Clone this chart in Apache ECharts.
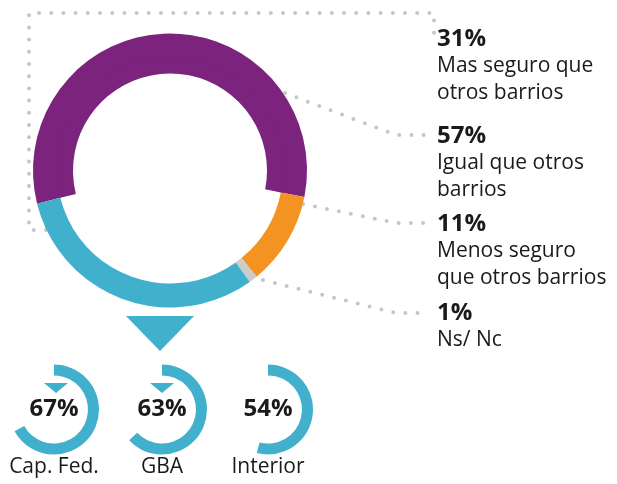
<!DOCTYPE html>
<html>
<head>
<meta charset="utf-8">
<script src="https://cdn.jsdelivr.net/npm/echarts@6/dist/echarts.min.js"></script>
<style>
html, body { margin: 0; padding: 0; background: #fff; }
#chart { width: 617px; height: 484px; }
</style>
</head>
<body>
<div id="chart"></div>
<script>
// main donut: clockwise from the lower left
const categories = ['Igual que otros\nbarrios', 'Menos seguro\nque otros barrios', 'Ns/ Nc', 'Mas seguro que\notros barrios'];
const shares = [57, 11, 1, 31];
const sliceColors = ['#7b237d', '#f39322', '#cccccc', '#41b0cd'];
// breakdown of "Mas seguro" by region
const regions = ['Cap. Fed.', 'GBA', 'Interior'];
const regionShares = [67, 63, 54];

const FONT = '"Open Sans", sans-serif';
const TEXT = '#1a1a1a';
const BLUE = '#41b0cd';
const DOT = '#c6c6c6';

const labelTops = [123, 211, 300, 26];
const regionX = [54, 162, 268];

function dotted(points) {
    return {
        type: 'polyline',
        silent: true,
        shape: { points: points },
        style: { stroke: DOT, fill: null, lineWidth: 4, lineDash: [0, 12.2], lineCap: 'round' },
    };
}

let series = [
    {
        type: 'pie',
        silent: true,
        radius: [113, 137],
        center: [170, 170.5],
        startAngle: 194,
        clockwise: true,
        emphasis: { disabled: true },
        labelLine: { show: false },
        label: {
            show: true,
            position: 'outside',
            overflow: 'none',
            fontFamily: FONT,
            formatter: '{p|{c}%}\n{n|{b}}',
            rich: {
                p: { fontFamily: FONT, fontWeight: 700, fontSize: 24, lineHeight: 27, color: TEXT },
                n: { fontFamily: FONT, fontSize: 21, lineHeight: 27, color: TEXT },
            },
        },
        labelLayout: function (params) {
            return { x: 437, y: labelTops[params.dataIndex], width: 200, align: 'left', verticalAlign: 'top' };
        },
        data: shares.map((v, i) => ({ name: categories[i], value: v, itemStyle: { color: sliceColors[i] } })),
    },
    {
        // purple band is thicker on the inside
        type: 'pie',
        silent: true,
        radius: [97, 114],
        center: [170, 170.5],
        startAngle: 194,
        clockwise: true,
        emphasis: { disabled: true },
        label: { show: false },
        labelLine: { show: false },
        data: shares.map((v, i) => ({ value: v, itemStyle: { color: i === 0 ? sliceColors[0] : 'rgba(0,0,0,0)' } })),
    },
];

regionShares.forEach((v, i) => {
    series.push({
        type: 'pie',
        silent: true,
        radius: [34, 45],
        center: [regionX[i], 409.5],
        startAngle: 90,
        clockwise: true,
        emphasis: { disabled: true },
        labelLine: { show: false },
        data: [
            {
                value: v,
                itemStyle: { color: BLUE },
                label: {
                    show: true,
                    position: 'center',
                    formatter: '{c}%',
                    fontFamily: FONT,
                    fontWeight: 700,
                    fontSize: 24,
                    color: TEXT,
                },
            },
            { value: 100 - v, itemStyle: { color: 'rgba(0,0,0,0)' }, label: { show: false } },
        ],
    });
});

let graphics = [
    dotted([[46, 230], [29, 230], [29, 13], [434, 13], [434, 40]]),
    dotted([[285, 93], [396, 135], [428, 135]]),
    dotted([[303, 204], [396, 223], [428, 223]]),
    dotted([[263, 280], [396, 313], [428, 313]]),
    { type: 'polygon', silent: true, shape: { points: [[126, 316], [194, 316], [160, 351]] }, style: { fill: BLUE } },
    { type: 'polygon', silent: true, shape: { points: [[44, 383], [68, 383], [56, 393]] }, style: { fill: BLUE } },
    { type: 'polygon', silent: true, shape: { points: [[150, 383], [174, 383], [162, 393]] }, style: { fill: BLUE } },
];
regions.forEach((r, i) => {
    graphics.push({
        type: 'text',
        silent: true,
        x: regionX[i],
        y: 457,
        style: { text: r, fontFamily: FONT, fontSize: 21, fill: TEXT, align: 'center', verticalAlign: 'top' },
    });
});

let option = {
    animation: false,
    backgroundColor: '#fff',
    graphic: graphics,
    series: series,
};

let chart = echarts.init(document.getElementById('chart'));
chart.setOption(option);
window.addEventListener('resize', () => {
    chart.resize();
});
</script>
</body>
</html>
